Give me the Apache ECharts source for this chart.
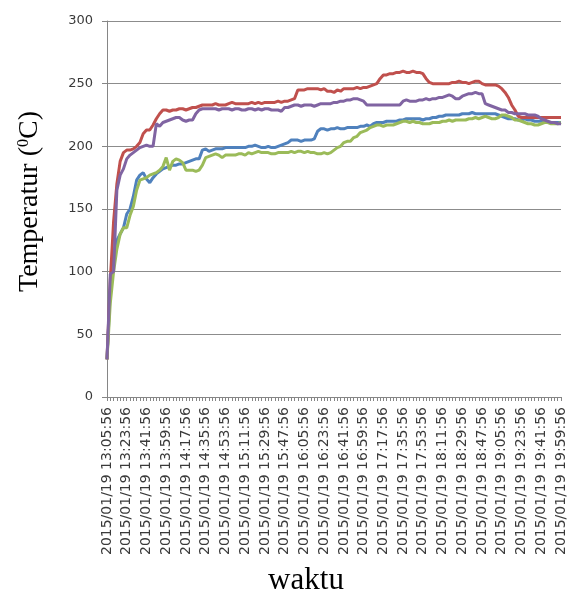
<!DOCTYPE html>
<html>
<head>
<meta charset="utf-8">
<script src="https://cdn.jsdelivr.net/npm/echarts@6/dist/echarts.min.js"></script>
<style>html,body{margin:0;padding:0;background:#fff;}#c{width:568px;height:594px;}</style>
</head>
<body>
<div id="c"></div>
<script>
// sampled every 3 minutes from 2015/01/19 13:05:56 to 19:59:56
const startTime = '2015/01/19 13:05:56';
const stepMinutes = 3;
const yTicks = [0, 50, 100, 150, 200, 250, 300];

const seriesBlue = [30,85,110,125,130,135,146,150,160,173,177,179,174,171,175,178,180,182,183,184,185,185,186,186,187,188,189,190,190,197,198,196,197,198,198,198,199,199,199,199,199,199,199,200,200,201,200,199,199,200,199,199,200,201,202,203,205,205,205,204,205,205,205,206,212,214,214,213,214,214,215,214,214,215,215,215,215,216,216,217,216,218,219,219,219,220,220,220,220,221,221,222,222,222,222,222,221,222,222,223,223,224,224,225,225,225,225,225,226,226,226,227,226,226,226,226,226,226,226,225,224,223,222,222,222,221,221,222,221,221,220,220,220,219,219,219,219,219,219];
const seriesRed = [30,93,140,170,188,195,197,197,198,200,203,210,213,213,217,222,226,229,229,228,229,229,230,230,229,230,231,231,232,233,233,233,233,234,233,233,233,234,235,234,234,234,234,234,235,234,235,234,235,235,235,235,236,235,236,236,237,238,245,245,245,246,246,246,246,245,246,244,244,243,245,244,246,246,246,246,247,246,247,247,248,249,250,254,257,257,258,258,259,259,260,259,259,260,259,259,258,254,251,250,250,250,250,250,250,251,251,252,251,251,250,251,252,252,250,249,249,249,249,248,246,243,239,233,229,224,223,223,223,223,223,223,223,223,223,223,223,223,223];
const seriesGreen = [30,75,100,118,130,135,135,145,152,165,173,174,175,177,178,179,181,184,191,181,188,190,189,187,181,181,181,180,181,185,191,192,193,194,193,191,193,193,193,193,194,194,193,195,194,195,196,195,195,195,194,194,195,195,195,195,196,195,196,196,195,196,195,195,194,194,195,194,195,197,199,200,203,204,204,207,208,211,212,213,215,216,217,217,216,217,217,217,218,219,220,220,219,220,219,219,218,218,218,219,219,219,220,220,221,220,221,221,221,221,222,222,223,222,223,224,223,222,222,223,225,225,224,223,221,221,220,219,218,218,217,217,218,219,219,218,218,218,219];
const seriesPurple = [30,98,100,165,177,182,190,193,195,197,199,200,201,200,200,218,216,219,220,221,222,223,223,221,220,221,221,226,229,230,230,230,230,230,229,230,230,230,229,230,230,229,229,230,230,229,230,229,230,230,229,229,229,228,231,231,232,233,233,232,233,233,233,232,233,234,234,234,234,235,235,236,236,237,237,238,238,237,236,233,233,233,233,233,233,233,233,233,233,233,236,237,236,236,236,237,237,238,237,238,238,239,239,240,241,240,238,238,240,241,242,242,243,242,242,234,233,232,231,230,229,229,227,227,226,226,226,226,225,225,225,224,222,221,220,219,219,218,218];

function pad(n){return (n<10?'0':'')+n;}
const categories = [];
(function(){
  const p = startTime.split(' ');
  const t = p[1].split(':').map(Number);
  let m = t[0]*60 + t[1];
  for (let i = 0; i < seriesRed.length; i++) {
    const mm = m + i*stepMinutes;
    categories.push(p[0] + ' ' + pad(Math.floor(mm/60)) + ':' + pad(mm%60) + ':' + pad(t[2]));
  }
})();

const chart = echarts.init(document.getElementById('c'), null, {renderer:'canvas'});
const lineS = (name, data, color) => ({
  name, type:'line', data, showSymbol:false, symbol:'none', smooth:false,
  lineStyle:{color, width:3}, itemStyle:{color}, animation:false
});
chart.setOption({
  animation:false,
  backgroundColor:'#ffffff',
  grid:{left:107, top:21, width:461, height:376},
  xAxis:{
    type:'category', data:categories, boundaryGap:false,
    axisLine:{lineStyle:{color:'#868686', width:1}},
    axisTick:{show:true, interval:0, length:4, lineStyle:{color:'#868686'}},
    axisLabel:{interval:5, rotate:90, margin:10, color:'#3a3a3a', fontFamily:'DejaVu Sans', fontSize:14},
    splitLine:{show:false}
  },
  yAxis:{
    type:'value', min:yTicks[0], max:yTicks[yTicks.length-1], interval:50,
    axisLine:{show:true, lineStyle:{color:'#868686', width:1}},
    axisTick:{show:true, length:5, lineStyle:{color:'#868686'}},
    axisLabel:{margin:14, color:'#3a3a3a', fontFamily:'DejaVu Sans', fontSize:13},
    splitLine:{show:true, lineStyle:{color:'#8c8c8c', width:1}}
  },
  graphic:[
    {type:'text', rotation:Math.PI/2, style:{
      text:'{a|Temperatur (}{s|0}{a|C)}',
      rich:{a:{fontFamily:'Liberation Serif', fontSize:28, fill:'#000'},
            s:{fontFamily:'Liberation Serif', fontSize:16, fill:'#000', verticalAlign:'top', padding:[0,0,10,0]}},
      x:0, y:0
    }, position:[16,292], origin:[0,0]},
    {type:'text', style:{text:'waktu', fontFamily:'Liberation Serif', fontSize:31, fill:'#000', textAlign:'center', textVerticalAlign:'middle'}, position:[306,581]}
  ],
  series:[
    lineS('s1', seriesBlue, '#4F81BD'),
    lineS('s2', seriesRed, '#C0504D'),
    lineS('s3', seriesGreen, '#9BBB59'),
    lineS('s4', seriesPurple, '#8064A2')
  ]
});
</script>
</body>
</html>
